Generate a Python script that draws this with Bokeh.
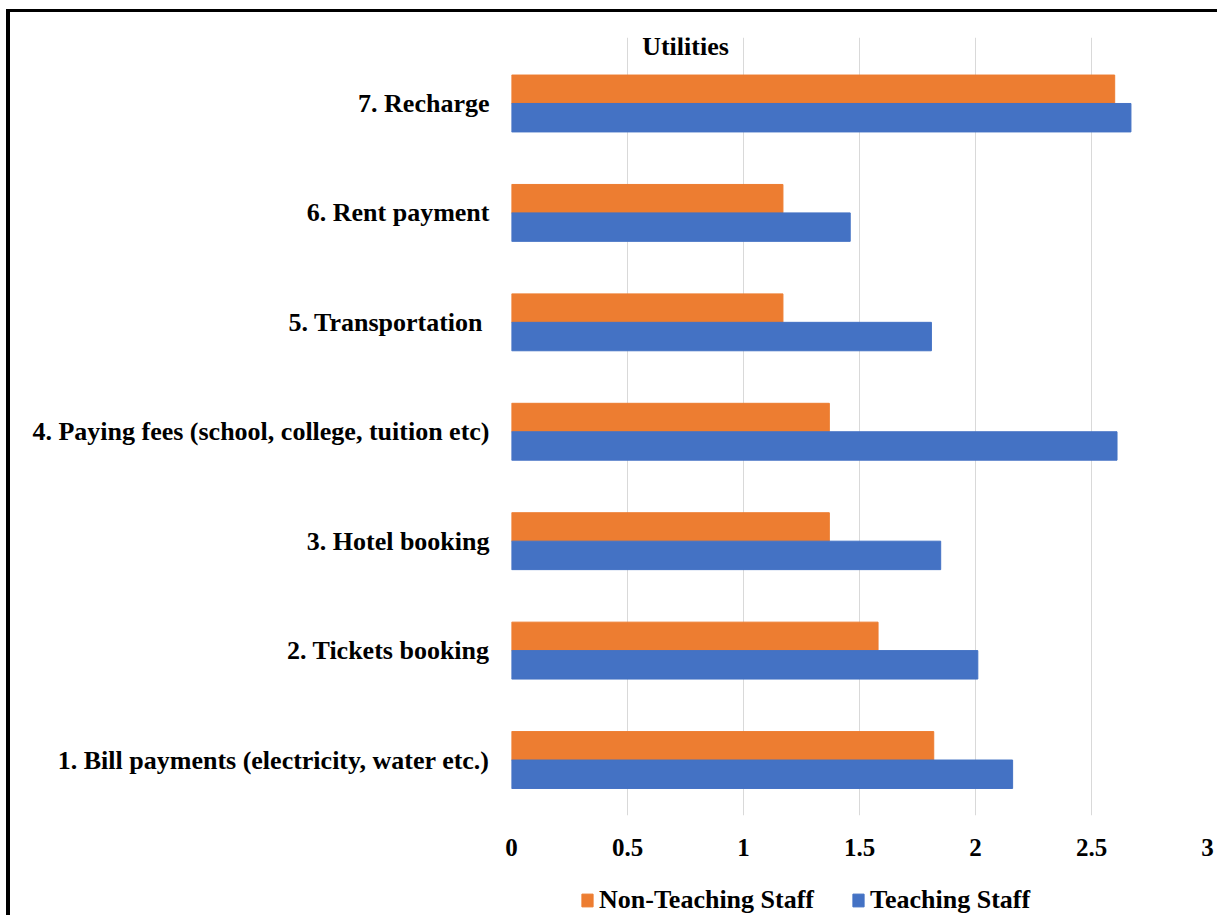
from bokeh.plotting import figure
from bokeh.layouts import column
from bokeh.models import ColumnDataSource, FixedTicker, NumeralTickFormatter, Legend, LegendItem, Label, Range1d
from bokeh.transform import dodge
from bokeh.embed import file_html
from bokeh.resources import INLINE

categories = [
    "1. Bill payments (electricity, water etc.)",
    "2. Tickets booking",
    "3. Hotel booking",
    "4. Paying fees (school, college, tuition etc)",
    "5. Transportation ",
    "6. Rent payment",
    "7. Recharge",
]
non_teaching = [1.82, 1.58, 1.37, 1.37, 1.17, 1.17, 2.60]
teaching = [2.16, 2.01, 1.85, 2.61, 1.81, 1.46, 2.67]
x_ticks = [0, 0.5, 1, 1.5, 2, 2.5, 3]
series_names = ["Non-Teaching Staff", "Teaching Staff"]
title_text = "Utilities"

ORANGE = "#ED7D31"
BLUE = "#4472C4"
FONT = "Liberation Serif"

pos = list(range(len(categories)))
src = ColumnDataSource(dict(y=pos, nt=non_teaching, t=teaching, cat=categories))

W = 1207
H_MAIN = 863
H_LEG = 40

p = figure(width=W, height=H_MAIN, output_backend="svg", toolbar_location=None,
           x_range=Range1d(0, 3), y_range=Range1d(-0.507, 6.603),
           min_border_left=501, min_border_right=10, min_border_top=25, min_border_bottom=60)

p.hbar(y=dodge("y", 0.13, range=p.y_range), right="nt", left=0, height=0.26, source=src,
       fill_color=ORANGE, line_color=ORANGE, line_width=1)
p.hbar(y=dodge("y", -0.13, range=p.y_range), right="t", left=0, height=0.26, source=src,
       fill_color=BLUE, line_color=BLUE, line_width=1)

p.outline_line_color = None
p.background_fill_color = "white"
p.border_fill_color = "white"

p.xgrid.ticker = FixedTicker(ticks=x_ticks)
p.xgrid.grid_line_color = "#d9d9d9"
p.xgrid.grid_line_width = 1
p.ygrid.grid_line_color = None

xa = p.xaxis[0]
xa.ticker = FixedTicker(ticks=x_ticks)
xa.formatter = NumeralTickFormatter(format="0.[0]")
xa.axis_line_color = None
xa.major_tick_line_color = None
xa.minor_tick_line_color = None
xa.major_tick_out = 0
xa.major_label_standoff = 23
xa.major_label_text_font = FONT
xa.major_label_text_font_style = "bold"
xa.major_label_text_font_size = "25px"
xa.major_label_text_color = "black"

ya = p.yaxis[0]
ya.ticker = FixedTicker(ticks=pos)
ya.major_label_overrides = {i: c for i, c in zip(pos, categories)}
ya.axis_line_color = None
ya.major_tick_line_color = None
ya.minor_tick_line_color = None
ya.major_tick_out = 0
ya.major_label_standoff = 22
ya.major_label_text_font = FONT
ya.major_label_text_font_style = "bold"
ya.major_label_text_font_size = "26px"
ya.major_label_text_color = "black"

title = Label(x=0.75, y=6.52, text=title_text, text_align="center", text_baseline="middle",
              text_font=FONT, text_font_style="bold", text_font_size="26px", text_color="black")
p.add_layout(title)

# legend strip below the chart (its frame is aligned with the chart's frame)
pl = figure(width=W, height=H_LEG, output_backend="svg", toolbar_location=None,
            x_range=Range1d(0, 1), y_range=Range1d(0, 1),
            x_axis_type=None, y_axis_type=None,
            min_border_left=0, min_border_right=0, min_border_top=0, min_border_bottom=0)
pl.outline_line_color = None
pl.xgrid.visible = False
pl.ygrid.visible = False
# legend-only proxies, kept outside the visible range of the strip
proxy = ColumnDataSource(dict(y=[-10], right=[0]))
l_nt = pl.hbar(y="y", right="right", left=0, height=0.5, source=proxy,
               fill_color=ORANGE, line_color=ORANGE)
l_t = pl.hbar(y="y", right="right", left=0, height=0.5, source=proxy,
              fill_color=BLUE, line_color=BLUE)

legend = Legend(items=[LegendItem(label=series_names[0], renderers=[l_nt]),
                       LegendItem(label=series_names[1], renderers=[l_t])],
                location=(69, 0), orientation="horizontal")
legend.label_text_font = FONT
legend.label_text_font_style = "bold"
legend.label_text_font_size = "26px"
legend.label_text_color = "black"
legend.glyph_width = 14
legend.glyph_height = 16
legend.label_height = 24
legend.label_standoff = 5
legend.spacing = 37
legend.padding = 0
legend.margin = 0
legend.border_line_color = None
legend.background_fill_alpha = 0
pl.add_layout(legend, "center")

layout = column(p, pl, spacing=0,
                styles={"margin-top": "9px", "margin-left": "6px",
                        "border-top": "3px solid black", "border-left": "4px solid black"})

open("out.html", "w").write(file_html(layout, INLINE))
